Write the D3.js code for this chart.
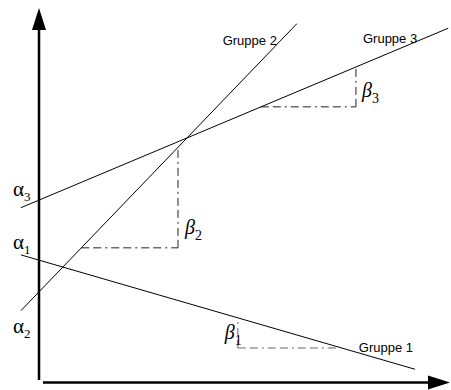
<!DOCTYPE html>
<html>
<head>
<meta charset="utf-8">
<script src="https://cdn.jsdelivr.net/npm/d3@7"></script>
<style>
  body { margin: 0; background: #fff; }
  .grp { font-family: "Liberation Sans", Arial, sans-serif; font-size: 13px; }
  .sym { font-family: "Liberation Serif", "Times New Roman", serif; }
</style>
</head>
<body>
<svg width="451" height="390"></svg>
<script>
// regression lines y = alpha + beta * x (abstract units)
var groups = ['Gruppe 1', 'Gruppe 2', 'Gruppe 3'];
var alphas = [32.4, 23.9, 48.5];
var betas = [-0.319, 1.143, 0.4617];
var lineFrom = [-4.4, -4.4, -4.4];
var lineTo = [91.7, 62.9, 99.8];

// slope triangles: horizontal leg [x0, x1] at level y, vertical leg at vx
var triH = [[48.5, 72.7], [10.3, 33.9], [54.1, 77.3]];
var triLevel = [8.85, 35.7, 73.5];
var triV = [48.5, 33.9, 77.3];

var svg = d3.select('svg');

var xScale = d3.scaleLinear().domain([0, 100]).range([39, 449]);
var yScale = d3.scaleLinear().domain([0, 100]).range([381, 8]);

function lineY(i, x) { return alphas[i] + betas[i] * x; }

// axes with arrow heads
var x0 = xScale(0), y0 = yScale(0);
svg.append('line')
    .attr('x1', x0).attr('y1', y0 - 1)
    .attr('x2', x0).attr('y2', yScale(100) + 20)
    .attr('stroke', '#000').attr('stroke-width', 2.5);
svg.append('path')
    .attr('d', 'M' + [x0, yScale(100)] + 'L' + [x0 - 7, yScale(100) + 22] + 'L' + [x0 + 7, yScale(100) + 22] + 'Z')
    .attr('fill', '#000');
svg.append('line')
    .attr('x1', x0 + 4).attr('y1', y0 + 1.5)
    .attr('x2', xScale(100) - 20).attr('y2', y0 + 1.5)
    .attr('stroke', '#000').attr('stroke-width', 2.5);
svg.append('path')
    .attr('d', 'M' + [xScale(100) + 1, y0 + 1.5] + 'L' + [xScale(100) - 21, y0 - 5.5] + 'L' + [xScale(100) - 21, y0 + 8.5] + 'Z')
    .attr('fill', '#000');

// slope triangles (dash-dot)
groups.forEach(function(g, i) {
    var tg = svg.append('g')
        .attr('fill', 'none')
        .attr('stroke', i === 0 ? '#666' : '#222')
        .attr('stroke-width', 1)
        .attr('stroke-dasharray', '8,4,8,4,2,4');
    tg.append('line')
        .attr('x1', xScale(triH[i][0])).attr('y1', yScale(triLevel[i]))
        .attr('x2', xScale(triH[i][1])).attr('y2', yScale(triLevel[i]));
    tg.append('line')
        .attr('x1', xScale(triV[i])).attr('y1', yScale(triLevel[i]))
        .attr('x2', xScale(triV[i])).attr('y2', yScale(lineY(i, triV[i])));
});

// regression lines
groups.forEach(function(g, i) {
    svg.append('line')
        .attr('x1', xScale(lineFrom[i])).attr('y1', yScale(lineY(i, lineFrom[i])))
        .attr('x2', xScale(lineTo[i])).attr('y2', yScale(lineY(i, lineTo[i])))
        .attr('stroke', '#000').attr('stroke-width', 1);
});

// group labels, placed relative to line ends
var labelOff = [[-2, -17], [-20, 21], [-31, 15]];
groups.forEach(function(g, i) {
    svg.append('text')
        .attr('class', 'grp')
        .attr('text-anchor', 'end')
        .attr('x', xScale(lineTo[i]) + labelOff[i][0])
        .attr('y', yScale(lineY(i, lineTo[i])) + labelOff[i][1])
        .text(g);
});

// alpha labels next to the intercepts
var alphaOff = [-6, 22, -12];
groups.forEach(function(g, i) {
    var t = svg.append('text')
        .attr('class', 'sym')
        .attr('x', 13)
        .attr('y', yScale(lineY(i, lineFrom[i])) + alphaOff[i])
        .attr('font-size', 21);
    t.append('tspan').text('\u03b1');
    t.append('tspan').attr('font-size', 13).attr('dy', 5).text(i + 1);
});

// beta labels next to the triangles
var betaOff = [[-13, -9], [7, -14], [6, -10]];
groups.forEach(function(g, i) {
    var t = svg.append('text')
        .attr('class', 'sym')
        .attr('x', xScale(triV[i]) + betaOff[i][0])
        .attr('y', yScale(triLevel[i]) + betaOff[i][1])
        .attr('font-size', 20);
    t.append('tspan').attr('font-style', 'italic').text('\u03b2');
    t.append('tspan').attr('font-size', 14).attr('dy', 6).text(i + 1);
});
</script>
</body>
</html>
